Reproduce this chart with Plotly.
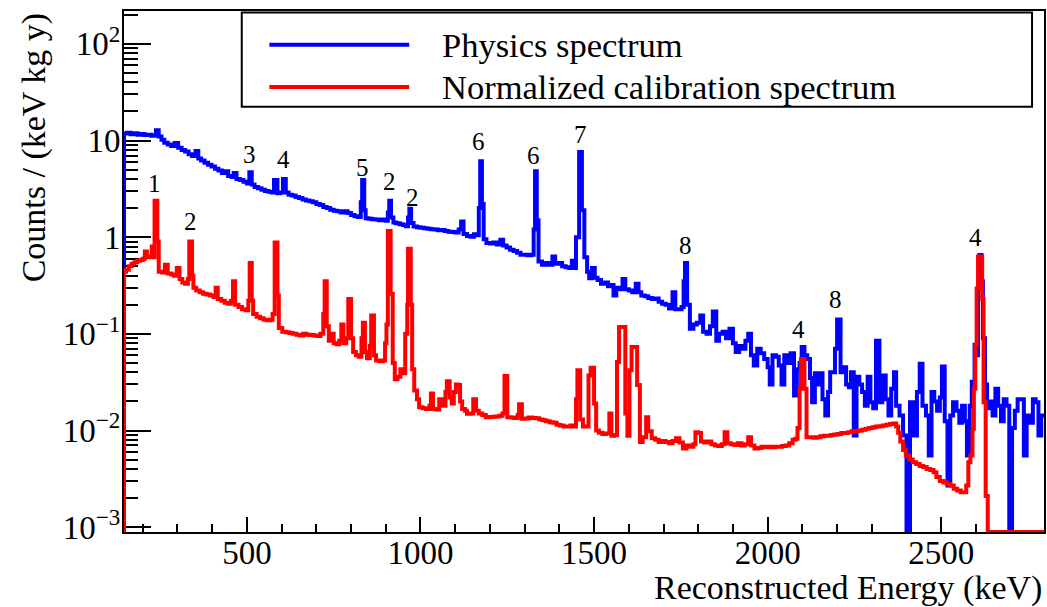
import math
import plotly.graph_objects as go

# ---------------- data ----------------
E_MIN, E_MAX = 146, 2796
Y_LOG_RANGE = [-3.05, 2.34]

# Physics spectrum: left bin edges (keV) and counts / (keV kg y)
blue_e = [146, 155, 165, 175, 185, 195, 205, 215, 225, 238, 246, 254, 262, 272, 282, 292, 302, 312, 322, 332,
          342, 352, 360, 368, 378, 388, 398, 408, 418, 428, 438, 446, 456, 462, 470, 480, 490, 500, 507, 514,
          522, 532, 542, 552, 562, 572, 578, 588, 596, 604, 612, 620, 630, 640, 650, 660, 670, 680, 690, 700,
          710, 720, 730, 740, 750, 760, 770, 780, 790, 800, 810, 820, 828, 832, 838, 842, 850, 860, 870, 880,
          890, 900, 906, 910, 915, 922, 930, 940, 950, 958, 964, 968, 973, 980, 990, 1000, 1010, 1020, 1030, 1040,
          1050, 1060, 1070, 1080, 1090, 1100, 1110, 1117, 1124, 1134, 1144, 1154, 1164, 1168, 1172, 1177, 1182, 1190, 1200, 1210,
          1220, 1230, 1238, 1248, 1258, 1268, 1278, 1288, 1298, 1308, 1318, 1326, 1330, 1335, 1340, 1350, 1360, 1370, 1380, 1388,
          1398, 1408, 1418, 1428, 1436, 1442, 1448, 1457, 1465, 1472, 1480, 1486, 1494, 1502, 1510, 1520, 1530, 1540, 1550, 1556,
          1564, 1574, 1582, 1590, 1600, 1610, 1620, 1628, 1636, 1646, 1656, 1666, 1676, 1686, 1696, 1706, 1716, 1726, 1734, 1744,
          1752, 1758, 1762, 1768, 1776, 1786, 1796, 1806, 1814, 1824, 1834, 1842, 1852, 1860, 1870, 1880, 1890, 1900, 1908, 1918,
          1926, 1936, 1944, 1952, 1960, 1970, 1980, 1990, 2000, 2006, 2014, 2024, 2032, 2040, 2048, 2058, 2066, 2076, 2084, 2092,
          2098, 2106, 2114, 2122, 2128, 2136, 2144, 2152, 2158, 2166, 2174, 2180, 2188, 2194, 2200, 2210, 2218, 2226, 2234, 2240,
          2248, 2256, 2264, 2272, 2280, 2288, 2296, 2304, 2312, 2322, 2330, 2340, 2348, 2356, 2364, 2370, 2380, 2390, 2400, 2410,
          2420, 2430, 2438, 2446, 2456, 2464, 2472, 2480, 2488, 2496, 2502, 2510, 2518, 2526, 2534, 2544, 2552, 2560, 2568, 2574,
          2582, 2588, 2596, 2602, 2606, 2610, 2616, 2620, 2626, 2632, 2640, 2648, 2656, 2664, 2672, 2680, 2688, 2696, 2704, 2712,
          2720, 2730, 2738, 2746, 2756, 2764, 2772, 2780, 2788]
blue_v = [11.8, 12.0, 11.6, 11.9, 11.5, 11.7, 11.4, 11.5, 11.2, 12.8, 11.0, 10.2, 9.5, 9.1, 8.8, 9.4, 8.4, 8.0, 7.7, 7.2,
          6.9, 7.8, 6.5, 6.2, 5.9, 5.6, 5.4, 5.1, 4.9, 4.6, 4.8, 4.3, 4.2, 4.6, 4.0, 3.9, 3.75, 3.6, 4.7, 3.5,
          3.3, 3.2, 3.1, 3.0, 2.95, 2.9, 3.9, 2.85, 2.9, 4.0, 2.9, 2.75, 2.7, 2.6, 2.55, 2.45, 2.4, 2.35, 2.3, 2.2,
          2.15, 2.05, 2.0, 1.92, 1.88, 1.85, 1.80, 1.85, 1.78, 1.70, 1.65, 1.62, 2.3, 3.9, 1.9, 1.57, 1.55, 1.53, 1.52, 1.5,
          1.52, 1.48, 1.8, 2.38, 1.6, 1.42, 1.39, 1.36, 1.34, 1.30, 1.6, 1.97, 1.4, 1.29, 1.27, 1.25, 1.24, 1.22, 1.21, 1.2,
          1.18, 1.19, 1.16, 1.14, 1.13, 1.12, 1.2, 1.45, 1.08, 1.03, 1.01, 1.07, 1.05, 2.0, 6.1, 2.2, 0.95, 0.87, 0.86, 0.88,
          0.84, 0.94, 0.82, 0.78, 0.74, 0.72, 0.69, 0.66, 0.66, 0.65, 0.66, 1.2, 4.8, 1.5, 0.56, 0.52, 0.54, 0.52, 0.63, 0.53,
          0.54, 0.5, 0.49, 0.48, 0.57, 0.48, 1.0, 7.6, 1.9, 0.62, 0.44, 0.375, 0.48, 0.38, 0.36, 0.33, 0.34, 0.31, 0.32, 0.25,
          0.3, 0.29, 0.37, 0.29, 0.28, 0.27, 0.33, 0.27, 0.25, 0.245, 0.235, 0.23, 0.232, 0.215, 0.205, 0.2, 0.183, 0.27, 0.18, 0.18,
          0.19, 0.35, 0.54, 0.2, 0.113, 0.125, 0.13, 0.155, 0.105, 0.1, 0.12, 0.17, 0.085, 0.1, 0.105, 0.09, 0.113, 0.08, 0.065, 0.075,
          0.07, 0.085, 0.1, 0.06, 0.047, 0.07, 0.063, 0.055, 0.045, 0.03, 0.06, 0.058, 0.047, 0.03, 0.06, 0.05, 0.063, 0.023, 0.043, 0.05,
          0.073, 0.06, 0.055, 0.035, 0.0196, 0.039, 0.03, 0.039, 0.021, 0.0143, 0.025, 0.04, 0.04, 0.07, 0.141, 0.04, 0.045, 0.03, 0.028, 0.04,
          0.0089, 0.036, 0.03, 0.025, 0.018, 0.036, 0.0196, 0.017, 0.085, 0.0196, 0.037, 0.021, 0.0143, 0.027, 0.04, 0.018, 0.0143, 0.0089, 0.0, 0.0196,
          0.0089, 0.025, 0.049, 0.018, 0.0143, 0.0055, 0.025, 0.02, 0.016, 0.022, 0.046, 0.0125, 0.0027, 0.0143, 0.0196, 0.016, 0.012, 0.018, 0.0125, 0.0055,
          0.018, 0.032, 0.077, 0.06, 0.3, 0.655, 0.35, 0.09, 0.03, 0.017, 0.02, 0.0143, 0.027, 0.018, 0.0125, 0.021, 0.018, 0.0, 0.0106, 0.016,
          0.021, 0.021, 0.0055, 0.0143, 0.012, 0.021, 0.0196, 0.0089, 0.0143]

# Normalized calibration spectrum
red_e = [146, 152, 160, 168, 176, 184, 192, 200, 206, 212, 220, 226, 232, 234, 242, 246, 256, 264, 272, 282,
         290, 298, 306, 314, 322, 330, 334, 342, 346, 354, 364, 374, 384, 394, 404, 410, 416, 426, 436, 446,
         454, 460, 466, 476, 486, 496, 504, 508, 514, 518, 528, 538, 548, 558, 568, 574, 580, 588, 592, 602,
         612, 622, 632, 642, 652, 662, 672, 682, 692, 702, 712, 720, 724, 730, 736, 742, 750, 758, 766, 772,
         778, 786, 792, 800, 806, 814, 822, 830, 834, 840, 846, 854, 858, 866, 872, 882, 892, 898, 902, 906,
         914, 920, 926, 934, 942, 950, 956, 962, 964, 972, 976, 982, 990, 996, 1006, 1016, 1026, 1030, 1036, 1046,
         1054, 1062, 1072, 1076, 1084, 1090, 1096, 1102, 1108, 1114, 1120, 1128, 1134, 1144, 1152, 1160, 1168, 1178, 1188, 1198,
         1208, 1218, 1228, 1236, 1242, 1250, 1260, 1270, 1280, 1284, 1292, 1302, 1312, 1322, 1332, 1342, 1352, 1362, 1372, 1382,
         1392, 1402, 1412, 1422, 1432, 1442, 1448, 1452, 1460, 1468, 1478, 1484, 1490, 1500, 1506, 1514, 1524, 1534, 1544, 1550,
         1558, 1566, 1572, 1590, 1596, 1602, 1608, 1624, 1632, 1640, 1650, 1656, 1666, 1676, 1686, 1696, 1706, 1716, 1726, 1736,
         1746, 1756, 1766, 1776, 1786, 1792, 1800, 1808, 1818, 1828, 1838, 1848, 1858, 1868, 1876, 1884, 1894, 1904, 1914, 1924,
         1934, 1944, 1952, 1962, 1972, 1982, 1992, 2002, 2012, 2022, 2032, 2042, 2052, 2062, 2072, 2080, 2086, 2092, 2096, 2106,
         2112, 2122, 2132, 2142, 2152, 2162, 2172, 2182, 2192, 2202, 2212, 2222, 2232, 2242, 2252, 2262, 2272, 2282, 2292, 2302,
         2312, 2322, 2332, 2342, 2352, 2362, 2370, 2376, 2382, 2390, 2398, 2408, 2418, 2428, 2438, 2448, 2458, 2468, 2478, 2486,
         2496, 2506, 2516, 2526, 2536, 2546, 2556, 2566, 2572, 2578, 2584, 2590, 2594, 2598, 2602, 2606, 2618, 2622, 2628, 2634]
red_v = [0.44, 0.46, 0.50, 0.53, 0.55, 0.57, 0.58, 0.60, 0.71, 0.62, 0.63, 0.80, 0.62, 2.38, 0.9, 0.44, 0.43, 0.52, 0.42, 0.41,
         0.40, 0.48, 0.37, 0.34, 0.33, 0.37, 0.90, 0.40, 0.3, 0.28, 0.27, 0.26, 0.255, 0.25, 0.24, 0.30, 0.23, 0.22, 0.21, 0.205,
         0.22, 0.35, 0.2, 0.19, 0.18, 0.175, 0.22, 0.54, 0.22, 0.16, 0.15, 0.145, 0.14, 0.138, 0.14, 0.16, 0.88, 0.25, 0.115, 0.105,
         0.104, 0.102, 0.1, 0.098, 0.096, 0.1, 0.098, 0.097, 0.096, 0.095, 0.1, 0.16, 0.35, 0.12, 0.085, 0.1, 0.08, 0.078, 0.085, 0.125,
         0.08, 0.09, 0.23, 0.09, 0.065, 0.06, 0.058, 0.09, 0.13, 0.065, 0.056, 0.075, 0.155, 0.06, 0.053, 0.052, 0.053, 0.08, 0.125, 1.16,
         0.26, 0.05, 0.034, 0.036, 0.043, 0.039, 0.1, 0.2, 0.76, 0.2, 0.043, 0.026, 0.021, 0.0174, 0.017, 0.0167, 0.018, 0.0242, 0.0167, 0.0165,
         0.021, 0.018, 0.025, 0.0324, 0.022, 0.019, 0.025, 0.03, 0.0295, 0.02, 0.0167, 0.016, 0.0149, 0.015, 0.021, 0.016, 0.015, 0.0145, 0.0137, 0.0138,
         0.0139, 0.014, 0.0142, 0.015, 0.0366, 0.0137, 0.0136, 0.0135, 0.0145, 0.0187, 0.0132, 0.0133, 0.0136, 0.0135, 0.0134, 0.013, 0.0128, 0.0125, 0.0122, 0.012,
         0.0115, 0.0113, 0.011, 0.011, 0.0113, 0.011, 0.021, 0.042, 0.013, 0.011, 0.011, 0.037, 0.0446, 0.019, 0.01, 0.0095, 0.0092, 0.0093, 0.015, 0.0088,
         0.009, 0.051, 0.118, 0.015, 0.0088, 0.042, 0.073, 0.0295, 0.0076, 0.0085, 0.0137, 0.0098, 0.0083, 0.008, 0.0076, 0.0078, 0.0076, 0.0074, 0.0078, 0.0083,
         0.0075, 0.0065, 0.007, 0.0068, 0.0072, 0.0096, 0.0094, 0.0077, 0.0075, 0.0077, 0.0072, 0.007, 0.0069, 0.0072, 0.0096, 0.0074, 0.0072, 0.0071, 0.0074, 0.007,
         0.0072, 0.0085, 0.007, 0.0065, 0.0066, 0.0068, 0.0067, 0.0068, 0.0067, 0.0068, 0.0068, 0.0069, 0.007, 0.0074, 0.008, 0.0082, 0.0106, 0.027, 0.055, 0.027,
         0.0085, 0.0085, 0.0084, 0.0085, 0.0087, 0.0088, 0.0088, 0.009, 0.0091, 0.0092, 0.0094, 0.0094, 0.0096, 0.0098, 0.0099, 0.01, 0.0102, 0.0104, 0.0106, 0.0108,
         0.011, 0.0111, 0.0113, 0.0115, 0.0117, 0.0118, 0.011, 0.0095, 0.0077, 0.0063, 0.0055, 0.005, 0.0047, 0.0045, 0.0043, 0.0042, 0.004, 0.0039, 0.0037, 0.0033,
         0.003, 0.0029, 0.0028, 0.0027, 0.0025, 0.0024, 0.0023, 0.0023, 0.0027, 0.0047, 0.0055, 0.0104, 0.027, 0.076, 0.295, 0.63, 0.23, 0.0196, 0.0021, 0.0]

# Peak identification labels
label_text = ["1", "2", "3", "4", "5", "2", "2", "6", "6", "7", "8", "4", "8", "4"]
label_e = [234, 338, 507, 604, 832, 912, 976, 1166, 1326, 1460, 1763, 2090, 2194, 2600]
label_y = [3.6, 1.45, 7.2, 6.3, 5.3, 3.75, 2.6, 9.8, 7.0, 11.6, 0.83, 0.112, 0.225, 0.99]

legend_names = ["Physics spectrum", "Normalized calibration spectrum"]
x_title = "Reconstructed Energy (keV)"
y_title = "Counts / (keV kg y)"
y_tick_vals = [1e-3, 1e-2, 1e-1, 1, 10, 100]
y_tick_text = ["10<sup>−3</sup>", "10<sup>−2</sup>", "10<sup>−1</sup>", "1", "10", "10<sup>2</sup>"]

# ---------------- drawing ----------------
FONT = "Liberation Serif"
FLOOR = 10 ** Y_LOG_RANGE[0]  # empty bins drawn on the lower frame (ROOT style)


def step_xy(edges, vals):
    xs = [edges[0]] + list(edges) + [E_MAX]
    ys = [FLOOR] + [v if v > 0 else FLOOR for v in vals] + [vals[-1] if vals[-1] > 0 else FLOOR]
    return xs, ys


fig = go.Figure()
bx, by = step_xy(blue_e, blue_v)
rx, ry = step_xy(red_e, red_v)
fig.add_trace(go.Scatter(x=bx, y=by, mode="lines", line=dict(color="#0000ff", width=4, shape="hv"),
                         name=legend_names[0], showlegend=False))
fig.add_trace(go.Scatter(x=rx, y=ry, mode="lines", line=dict(color="#ff0000", width=4, shape="hv"),
                         name=legend_names[1], showlegend=False))

annotations = []
for t, e, v in zip(label_text, label_e, label_y):
    annotations.append(dict(x=e, y=math.log10(v), xref="x", yref="y", text=t, showarrow=False,
                            font=dict(family=FONT, size=25, color="black"), xanchor="center", yanchor="middle"))

# axis titles (ROOT style: aligned to the end of the axis)
annotations.append(dict(x=1.0, y=-0.107, xref="paper", yref="paper", text=x_title, showarrow=False,
                        xanchor="right", yanchor="middle", font=dict(family=FONT, size=34, color="black")))
annotations.append(dict(x=-0.098, y=1.0, xref="paper", yref="paper", text=y_title, showarrow=False,
                        textangle=-90, xanchor="center", yanchor="top", font=dict(family=FONT, size=34, color="black")))

# legend box (drawn like ROOT's TLegend)
shapes = [dict(type="rect", xref="paper", yref="paper", x0=0.128, x1=0.987, y0=0.816, y1=0.997,
               line=dict(color="black", width=2), fillcolor="white", layer="above")]
leg_y = [0.935, 0.854]
leg_col = ["#0000ff", "#ff0000"]
for yy, cc, nm in zip(leg_y, leg_col, legend_names):
    shapes.append(dict(type="line", xref="paper", yref="paper", x0=0.158, x1=0.310, y0=yy, y1=yy,
                       line=dict(color=cc, width=4), layer="above"))
    annotations.append(dict(x=0.344, y=yy, xref="paper", yref="paper", text=nm, showarrow=False,
                            xanchor="left", yanchor="middle", font=dict(family=FONT, size=34.5, color="black")))

minor_y = [m * 10 ** k for k in range(-4, 3) for m in range(2, 10)]

fig.update_layout(
    width=1047, height=607,
    margin=dict(l=124, r=1, t=11, b=75),
    paper_bgcolor="white", plot_bgcolor="white",
    showlegend=False,
    font=dict(family=FONT, color="black"),
    annotations=annotations, shapes=shapes,
    xaxis=dict(range=[E_MIN, E_MAX], tickmode="linear", tick0=0, dtick=500,
               ticks="inside", ticklen=15, tickwidth=1.5, tickcolor="black", ticklabelstandoff=-10,
               minor=dict(ticks="inside", ticklen=8, tickwidth=1.5, tickcolor="black", dtick=100, tick0=0, showgrid=False),
               showline=True, linewidth=2, linecolor="black", mirror=True,
               showgrid=False, zeroline=False, tickfont=dict(family=FONT, size=33, color="black"),
               layer="below traces"),
    yaxis=dict(type="log", range=Y_LOG_RANGE, tickmode="array", tickvals=y_tick_vals, ticktext=y_tick_text,
               ticks="inside", ticklen=27, tickwidth=1.5, tickcolor="black", ticklabelstandoff=-5,
               minor=dict(ticks="inside", ticklen=14, tickwidth=1.5, tickcolor="black", tickmode="array",
                          tickvals=minor_y, showgrid=False),
               showline=True, linewidth=2, linecolor="black", mirror=True,
               showgrid=False, zeroline=False, tickfont=dict(family=FONT, size=33, color="black"),
               layer="below traces"),
)

fig.write_html("out.html")
